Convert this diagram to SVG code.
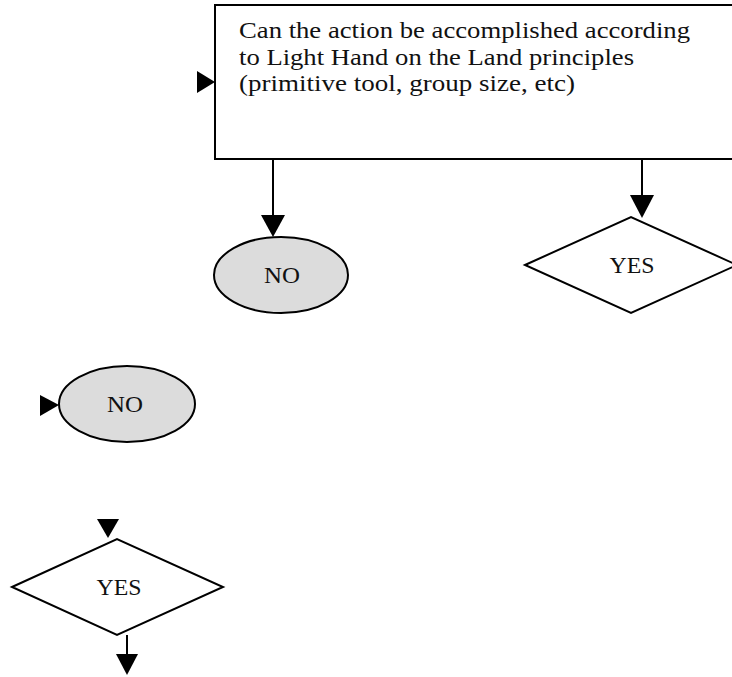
<svg xmlns="http://www.w3.org/2000/svg" width="732" height="677" viewBox="0 0 732 677">
<style>
.shape{fill:#fff;stroke:#000;stroke-width:2}
.term{fill:#dcdcdc;stroke:#000;stroke-width:2}
.line{stroke:#000;stroke-width:2;fill:none}
.head{fill:#000;stroke:none}
text{font-family:"Liberation Serif","Times New Roman",serif;fill:#111}
.lbl{font-size:23px;text-anchor:middle}
.q{font-size:24px}
</style>
<rect width="732" height="677" fill="#fff"/>
<g id="question">
<rect class="shape" x="215" y="5" width="530" height="154"/>
<text class="q" x="239" y="38" textLength="451" lengthAdjust="spacingAndGlyphs">Can the action be accomplished according</text>
<text class="q" x="239" y="65" textLength="395" lengthAdjust="spacingAndGlyphs">to Light Hand on the Land principles</text>
<text class="q" x="239" y="91" textLength="336" lengthAdjust="spacingAndGlyphs">(primitive tool, group size, etc)</text>
</g>
<g id="no1">
<ellipse class="term" cx="281" cy="275" rx="67" ry="38"/>
<text class="lbl" x="282" y="283" textLength="36" lengthAdjust="spacingAndGlyphs">NO</text>
</g>
<g id="yes1">
<polygon class="shape" points="525,265 631,217 737,265 631,313"/>
<text class="lbl" x="632" y="273" textLength="45" lengthAdjust="spacingAndGlyphs">YES</text>
</g>
<g id="no2">
<ellipse class="term" cx="127" cy="404" rx="68" ry="38"/>
<text class="lbl" x="125" y="412" textLength="36" lengthAdjust="spacingAndGlyphs">NO</text>
</g>
<g id="yes2">
<polygon class="shape" points="12,587 117,539 223,587 117,635"/>
<text class="lbl" x="119" y="595" textLength="45" lengthAdjust="spacingAndGlyphs">YES</text>
</g>
<g id="connectors">
<polygon class="head" points="197,71 215,82 197,93"/>
<line class="line" x1="273" y1="159" x2="273" y2="216"/>
<polygon class="head" points="261,215 285,215 273,237"/>
<line class="line" x1="642" y1="159" x2="642" y2="196"/>
<polygon class="head" points="630,195 654,195 642,218"/>
<polygon class="head" points="40,395 59,405 40,416"/>
<polygon class="head" points="97,519 119,519 108,538"/>
<line class="line" x1="127" y1="635" x2="127" y2="655"/>
<polygon class="head" points="116,654 138,654 127,675"/>
</g>
</svg>
